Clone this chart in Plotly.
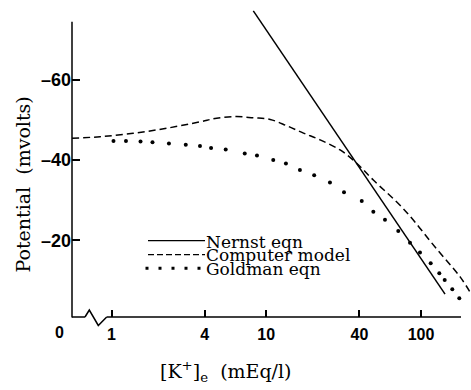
import plotly.graph_objects as go

# ---- data (K+ in mEq/l, potential in mV) ----
nernst_k = [8.25, 143.0]
nernst_mv = [-77.1, -6.6]

model_k = [0.556, 0.843, 1.38, 2.27, 3.73, 4.78, 6.38, 8.25, 10.6, 13.6, 17.4,
           22.3, 30.0, 38.4, 49.2, 76.8, 126.0, 179.0, 213.0]
model_mv = [-45.4, -45.8, -46.65, -47.9, -49.5, -50.4, -50.8, -50.5, -50.1, -48.5,
            -46.7, -45.0, -42.5, -39.2, -35.0, -27.9, -17.9, -10.9, -6.4]

goldman_k = [1.03, 1.24, 1.54, 1.84, 2.35, 3.02, 3.73, 4.40, 5.47, 7.26, 8.71,
             11.1, 13.4, 16.5, 20.4, 25.8, 31.8, 41.4, 49.2, 58.5, 71.3, 84.9,
             98.5, 115.5, 131.3, 142.3, 159.3, 176.8]
goldman_mv = [-44.7, -44.7, -44.6, -44.4, -44.1, -43.8, -43.5, -43.0, -42.6, -41.6,
              -41.1, -40.0, -39.1, -37.5, -36.2, -34.4, -32.0, -29.8, -27.1, -25.1,
              -22.3, -19.4, -17.0, -14.3, -11.8, -10.1, -7.8, -5.6]

x_tickvals = [1, 4, 10, 40, 100]
x_ticktext = ["1", "4", "10", "40", "100"]
y_tickvals = [-60, -40, -20]
y_ticktext = ["\u201360", "\u201340", "\u201320"]

series_names = ["Nernst eqn", "Computer model", "Goldman eqn"]

# ---- layout geometry (pixels) ----
W, H = 471, 390
ML, MR, MT, MB = 72, 0, 0, 73
PW, PH = W - ML - MR, H - MT - MB


def xp(px):
    return (px - ML) / PW


def yp(py):
    return (H - MB - py) / PH


fig = go.Figure()
fig.add_trace(go.Scatter(x=nernst_k, y=nernst_mv, mode="lines",
                         line=dict(color="black", width=1.5), name=series_names[0]))
fig.add_trace(go.Scatter(x=model_k, y=model_mv, mode="lines",
                         line=dict(color="black", width=1.5, dash="7px,4px", shape="spline"),
                         name=series_names[1]))
fig.add_trace(go.Scatter(x=goldman_k, y=goldman_mv, mode="markers",
                         marker=dict(color="black", size=4), name=series_names[2]))

xtickfont = dict(family="Liberation Sans", size=16, color="black", weight="bold")
ytickfont = dict(family="Liberation Sans", size=18, color="black", weight="bold")
serif = "DejaVu Serif"

fig.update_layout(
    width=W, height=H,
    margin=dict(l=ML, r=MR, t=MT, b=MB, pad=0),
    paper_bgcolor="white", plot_bgcolor="white",
    showlegend=False,
    xaxis=dict(type="log", range=[-0.25525, 2.3231], showgrid=False, zeroline=False,
               showline=False, ticks="inside", ticklen=7, tickwidth=1.5, tickcolor="black",
               tickvals=x_tickvals, ticktext=x_ticktext, tickfont=xtickfont,
               ticklabelstandoff=6),
    yaxis=dict(range=[-0.921, -79.825], showgrid=False, zeroline=False,
               showline=False, ticks="inside", ticklen=8, tickwidth=1.5, tickcolor="black",
               tickvals=y_tickvals, ticktext=y_ticktext, tickfont=ytickfont,
               ticklabelstandoff=0),
)

axis_line = dict(color="black", width=1.5)
shapes = [
    # y axis line
    dict(type="line", xref="paper", yref="paper", x0=0, x1=0, y0=yp(317.5), y1=yp(21.7),
         line=axis_line, layer="above"),
    # x axis line with break
    dict(type="line", xref="paper", yref="paper", x0=0, x1=xp(85), y0=0, y1=0,
         line=axis_line, layer="above"),
    dict(type="path", xref="paper", yref="paper",
         path=f"M{xp(85)},{yp(317)} L{xp(89.3)},{yp(310)} L{xp(98.3)},{yp(325.5)} L{xp(106.7)},{yp(317)}",
         line=axis_line, layer="above"),
    dict(type="line", xref="paper", yref="paper", x0=xp(106.7), x1=xp(461), y0=0, y1=0,
         line=axis_line, layer="above"),
    # legend samples
    dict(type="line", xref="paper", yref="paper", x0=xp(148), x1=xp(205),
         y0=yp(240.7), y1=yp(240.7), line=dict(color="black", width=1.3)),
    dict(type="line", xref="paper", yref="paper", x0=xp(148), x1=xp(205),
         y0=yp(254.7), y1=yp(254.7), line=dict(color="black", width=1.3, dash="6px,3px")),
    dict(type="line", xref="paper", yref="paper", x0=xp(145.5), x1=xp(201),
         y0=yp(268.3), y1=yp(268.3), line=dict(color="black", width=3, dash="3px,10px")),
]
fig.update_layout(shapes=shapes)

ann = []
ann.append(dict(text="0", x=xp(59), y=yp(333), xref="paper", yref="paper",
                showarrow=False, xanchor="center", yanchor="middle", font=xtickfont))
ann.append(dict(text="Potential  (mvolts)", x=xp(23), y=yp(184.5), xref="paper", yref="paper",
                showarrow=False, textangle=-90, xanchor="center", yanchor="middle",
                font=dict(family=serif, size=19, color="black")))
ann.append(dict(text="[K<sup>+</sup>]<sub>e</sub>  (mEq/l)", x=xp(226), y=yp(371),
                xref="paper", yref="paper", showarrow=False, xanchor="center",
                yanchor="middle", font=dict(family=serif, size=19, color="black")))
for name, py in zip(series_names, [241.5, 255.2, 268.8]):
    ann.append(dict(text=name, x=xp(205), y=yp(py), xref="paper", yref="paper",
                    showarrow=False, xanchor="left", yanchor="middle",
                    font=dict(family=serif, size=17, color="black"),
                    borderpad=0))
fig.update_layout(annotations=ann)

fig.write_html("out.html")
